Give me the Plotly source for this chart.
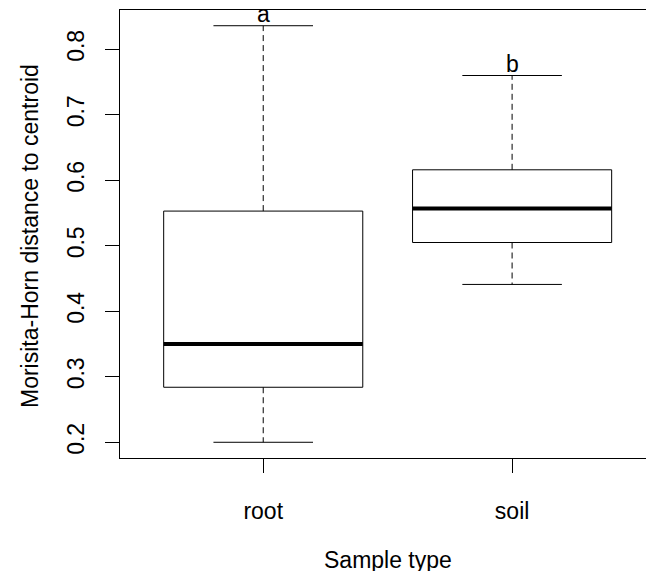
import plotly.graph_objects as go

# ---- data ----
categories = ["root", "soil"]
lower_whisker = [0.200, 0.441]
q1 = [0.284, 0.505]
median = [0.350, 0.557]
q3 = [0.553, 0.616]
upper_whisker = [0.836, 0.760]
group_letters = ["a", "b"]
y_ticks = [0.2, 0.3, 0.4, 0.5, 0.6, 0.7, 0.8]

FONT = "Liberation Sans, Arial, Helvetica, sans-serif"
FS = 23
W, H = 646, 571
ML, MR, MT, MB = 120, 0, 10, 113
BOX_HALF = 0.4
CAP_HALF = 0.2

fig = go.Figure()
xpos = list(range(1, len(categories) + 1))
for i, c in enumerate(xpos):
    # dashed whiskers
    for a, b in ((q3[i], upper_whisker[i]), (q1[i], lower_whisker[i])):
        fig.add_trace(go.Scatter(x=[c, c], y=[a, b], mode="lines",
                                 line=dict(color="black", width=1, dash="6px,4px"),
                                 hoverinfo="skip", showlegend=False))
    # caps
    for v in (upper_whisker[i], lower_whisker[i]):
        fig.add_trace(go.Scatter(x=[c - CAP_HALF, c + CAP_HALF], y=[v, v], mode="lines",
                                 line=dict(color="black", width=1),
                                 hoverinfo="skip", showlegend=False))
    # box
    fig.add_trace(go.Scatter(
        x=[c - BOX_HALF, c + BOX_HALF, c + BOX_HALF, c - BOX_HALF, c - BOX_HALF],
        y=[q1[i], q1[i], q3[i], q3[i], q1[i]], mode="lines",
        line=dict(color="black", width=1), hoverinfo="skip", showlegend=False))
    # median
    fig.add_trace(go.Scatter(x=[c - BOX_HALF, c + BOX_HALF], y=[median[i], median[i]],
                             mode="lines", line=dict(color="black", width=4),
                             hoverinfo="skip", showlegend=False))
    fig.add_annotation(x=c, y=upper_whisker[i], text=group_letters[i], showarrow=False,
                       xref="x", yref="y", yanchor="bottom", yshift=-3,
                       font=dict(family=FONT, size=FS, color="black"))

pw = W - ML - MR
ph = H - MT - MB

def px_to_paper_x(px):
    return (px - ML) / pw

def px_to_paper_y(py):
    return (H - MB - py) / ph

fig.add_annotation(x=px_to_paper_x(388), y=px_to_paper_y(560), xref="paper", yref="paper",
                   text="Sample type", showarrow=False, xanchor="center", yanchor="middle",
                   font=dict(family=FONT, size=FS, color="black"))
fig.add_annotation(x=px_to_paper_x(30), y=px_to_paper_y(236), xref="paper", yref="paper",
                   text="Morisita-Horn distance to centroid", showarrow=False, textangle=-90,
                   xanchor="center", yanchor="middle",
                   font=dict(family=FONT, size=FS, color="black"))

fig.update_layout(
    width=W, height=H, margin=dict(l=ML, r=MR, t=MT, b=MB),
    paper_bgcolor="white", plot_bgcolor="white",
    font=dict(family=FONT, size=FS, color="black"),
    xaxis=dict(range=[0.4245, 2.538], tickvals=xpos, ticktext=categories,
               showgrid=False, zeroline=False, showline=True, linecolor="black",
               linewidth=1, mirror=True, ticks="outside", ticklen=14, tickwidth=1,
               tickcolor="black", ticklabelstandoff=18),
    yaxis=dict(range=[0.176, 0.86], tickvals=y_ticks, ticktext=[str(v) for v in y_ticks],
               tickangle=-90, showgrid=False, zeroline=False, showline=True,
               linecolor="black", linewidth=1, ticks="outside", ticklen=14, tickwidth=1,
               tickcolor="black", ticklabelstandoff=12),
)

fig.write_html("out.html", config={"displayModeBar": False},
               post_script="document.body.style.margin='0';document.body.style.overflow='hidden';")
